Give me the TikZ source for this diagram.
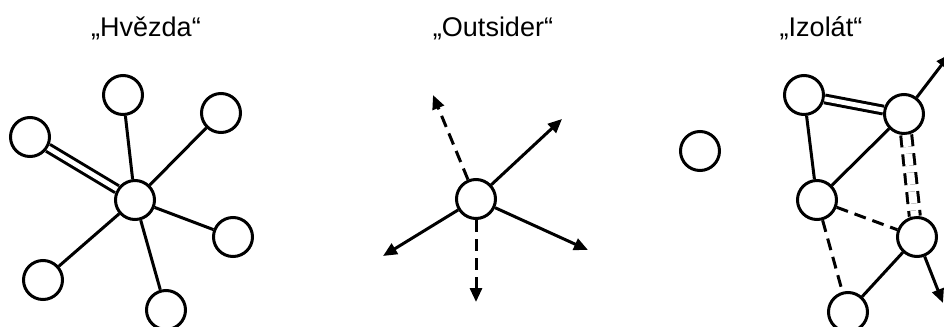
\documentclass[tikz,border=0pt]{standalone}
\usepackage{fontspec}
\setmainfont{Liberation Sans}
\usetikzlibrary{arrows.meta}

\begin{document}
\begin{tikzpicture}[x=0.5pt,y=-0.5pt,line width=1.5pt,
    pers/.style={circle,draw,fill=white,minimum size=19.5pt,inner sep=0pt},
    pair/.style={double,double distance=2.4pt},
    weak/.style={dash pattern=on 6pt off 3.5pt},
    ray/.style={-{Triangle[length=7pt,width=6pt]}},
    title/.style={anchor=base,font=\fontsize{13.5}{16}\selectfont}]
    \useasboundingbox (0,0) rectangle (944,327);
% Titles
    \node[title] (thv) at (146,36) {„Hvězda“};
    \node[title] (tout) at (493,36) {„Outsider“};
    \node[title] (tiz) at (821,36) {„Izolát“};
% Star
    \node[pers] (hub) at (135,200) {};
    \foreach \n/\x/\y in {t/123/95,tr/221/113,l/30/137,r/233/237,bl/43/280,b/166/310}{
        \node[pers] (s\n) at (\x,\y) {};
    }
    \foreach \n in {t,tr,r,bl,b}{
        \draw (hub) -- (s\n);
    }
    \draw[pair] (hub) -- (sl);
% Outsider
    \node[pers] (os) at (476,199) {};
    \foreach \n/\x/\y in {ul/433/95,ur/562/119,dl/383/256,dr/588/250,d/476/302}{
        \coordinate (o\n) at (\x,\y);
    }
    \foreach \n in {ur,dl,dr}{
        \draw[ray] (os) -- (o\n);
    }
    \foreach \n in {ul,d}{
        \draw[ray,weak] (os) -- (o\n);
    }
% Isolate
    \node[pers] (iso) at (700,151) {};
    \node[pers] (ia) at (804,95) {};
    \node[pers] (ib) at (904,114) {};
    \node[pers] (ic) at (817,200) {};
    \node[pers] (id) at (917,237) {};
    \node[pers] (ie) at (848,312) {};
    \coordinate (ibo) at (950,54);
    \coordinate (ido) at (943,303);
    \draw[pair] (ia) -- (ib);
    \draw (ia) -- (ic);
    \draw (ib) -- (ic);
    \draw[pair,weak,double distance=4pt] (ib) -- (id);
    \draw[weak] (ic) -- (id);
    \draw[weak] (ic) -- (ie);
    \draw (ie) -- (id);
    \draw[ray] (ib) -- (ibo);
    \draw[ray] (id) -- (ido);
\end{tikzpicture}
\end{document}
